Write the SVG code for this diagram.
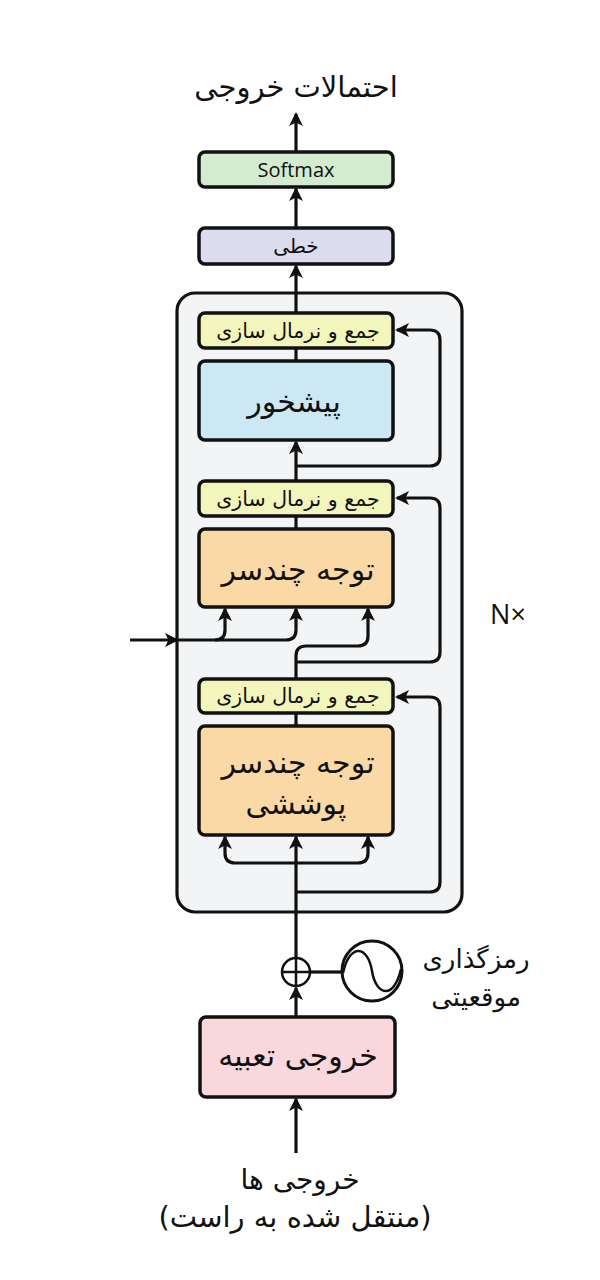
<svg xmlns="http://www.w3.org/2000/svg" width="600" height="1280" viewBox="0 0 600 1280">
<style>
.box{stroke:#111;stroke-width:3.5}
.fa{font-family:"DejaVu Sans",sans-serif;fill:#111;text-anchor:middle;direction:rtl;unicode-bidi:embed}
.en{font-family:"Open Sans","Liberation Sans",sans-serif;fill:#111;text-anchor:middle}
.ln{fill:none;stroke:#111;stroke-width:3.2;stroke-linejoin:round}
</style>
<defs>
<marker id="ah" viewBox="0 0 14 14" refX="12" refY="7" markerWidth="14" markerHeight="14" markerUnits="userSpaceOnUse" orient="auto">
<path d="M0,0 L14,7 L0,14 L3.5,7 Z" fill="#111"/>
</marker>
</defs>
<rect width="600" height="1280" fill="#fff"/>
<g id="frame"><rect x="177" y="293" width="285" height="619" rx="18" fill="#f3f4f6" stroke="#111" stroke-width="3.2"/></g>
<g id="connectors">
<path class="ln" d="M296,152 V114" marker-end="url(#ah)"/>
<path class="ln" d="M296,228 V189" marker-end="url(#ah)"/>
<path class="ln" d="M296,313 V266" marker-end="url(#ah)"/>
<path class="ln" d="M296,348 V361"/>
<path class="ln" d="M296,481 V442" marker-end="url(#ah)"/>
<path class="ln" d="M296,466 H430 Q440,466 440,456 V340 Q440,330 430,330 H397" marker-end="url(#ah)"/>
<path class="ln" d="M296,516 V529"/>
<path class="ln" d="M296,679 V662"/>
<path class="ln" d="M296,662 H430 Q440,662 440,652 V508 Q440,498 430,498 H397" marker-end="url(#ah)"/>
<path class="ln" d="M296,662 V656 Q296,646 306,646 H358 Q368,646 368,636 V609" marker-end="url(#ah)"/>
<path class="ln" d="M130,640 H177" marker-end="url(#ah)"/>
<path class="ln" d="M175,640 H286 Q296,640 296,630 V609" marker-end="url(#ah)"/>
<path class="ln" d="M215,640 Q225,640 225,630 V609" marker-end="url(#ah)"/>
<path class="ln" d="M296,713 V726"/>
<path class="ln" d="M296,958 V837" marker-end="url(#ah)"/>
<path class="ln" d="M296,892 H430 Q440,892 440,882 V707 Q440,697 430,697 H397" marker-end="url(#ah)"/>
<path class="ln" d="M296,863 H235 Q225,863 225,853 V837" marker-end="url(#ah)"/>
<path class="ln" d="M296,863 H358 Q368,863 368,853 V837" marker-end="url(#ah)"/>
<path class="ln" d="M296,1017 V988" marker-end="url(#ah)"/>
<path class="ln" d="M296,1153 V1099" marker-end="url(#ah)"/>
<path class="ln" d="M310,972 H342"/>
</g>
<g id="title"><text class="fa" x="296" y="97" font-size="29">احتمالات خروجی</text></g>
<g id="softmax"><rect class="box" x="199" y="152" width="194" height="35" rx="6" fill="#d3ecd0"/><text class="en" x="296" y="177" font-size="20">Softmax</text></g>
<g id="linear"><rect class="box" x="199" y="228" width="194" height="36" rx="6" fill="#dcdcef"/><text class="fa" x="296" y="253" font-size="20">خطی</text></g>
<g id="addnorm1"><rect class="box" x="199" y="313" width="194" height="35" rx="6" fill="#f2f6bd"/><text class="fa" x="298" y="338" font-size="20.5">جمع و نرمال سازی</text></g>
<g id="ffn"><rect class="box" x="199" y="361" width="194" height="79" rx="6" fill="#cde8f5"/><text class="fa" x="294" y="412" font-size="30">پیشخور</text></g>
<g id="addnorm2"><rect class="box" x="199" y="481" width="194" height="35" rx="6" fill="#f2f6bd"/><text class="fa" x="298" y="506" font-size="20.5">جمع و نرمال سازی</text></g>
<g id="mha"><rect class="box" x="199" y="529" width="194" height="78" rx="6" fill="#fbd9a6"/><text class="fa" x="298" y="580" font-size="30">توجه چندسر</text></g>
<g id="addnorm3"><rect class="box" x="199" y="679" width="194" height="34" rx="6" fill="#f2f6bd"/><text class="fa" x="298" y="703" font-size="20.5">جمع و نرمال سازی</text></g>
<g id="masked"><rect class="box" x="199" y="726" width="194" height="109" rx="6" fill="#fbd9a6"/><text class="fa" x="298" y="773" font-size="30">توجه چندسر</text><text class="fa" x="296" y="814" font-size="30">پوششی</text></g>
<g id="nx"><text class="en" x="508" y="624" font-size="27" fill="#444">N×</text></g>
<g id="plus"><circle cx="296" cy="972" r="14" fill="#fff" stroke="#111" stroke-width="2.5"/><path d="M282,972 H310 M296,958 V986" stroke="#111" stroke-width="2.5"/></g>
<g id="posenc"><circle cx="372" cy="971" r="30" fill="#fff" stroke="#111" stroke-width="3"/><path d="M343,973 C350,942 368,946 372,971 C376,996 394,1000 401,969" fill="none" stroke="#111" stroke-width="2.5"/>
<text class="fa" x="476" y="968" font-size="26">رمزگذاری</text><text class="fa" x="476" y="1006" font-size="26">موقعیتی</text></g>
<g id="embed"><rect class="box" x="200" y="1017" width="195" height="80" rx="6" fill="#f8d7dd"/><text class="fa" x="298" y="1066" font-size="30">خروجی تعبیه</text></g>
<g id="inputs"><text class="fa" x="300" y="1189" font-size="28">خروجی ها</text><text class="fa" x="295" y="1227" font-size="29">(منتقل شده به راست)</text></g>
</svg>
